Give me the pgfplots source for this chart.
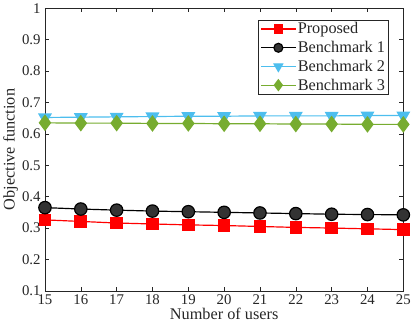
\documentclass[border=0pt]{standalone}
\usepackage{pgfplots}
\pgfplotsset{compat=1.18}
\usepackage{fontspec}
\setmainfont{Liberation Serif}
\definecolor{mblue}{rgb}{0.301,0.745,0.933}
\definecolor{mgreen}{rgb}{0.466,0.674,0.188}
\definecolor{axgray}{rgb}{0.15,0.15,0.15}
\begin{document}
\begin{tikzpicture}
\begin{axis}[
    scale only axis,
    width=362bp, height=285.6bp,
    xmin=15, xmax=25, ymin=0.1, ymax=1,
    xtick={15,...,25},
    ytick={0.1,0.2,...,1.0},
    yticklabels={0.1,0.2,0.3,0.4,0.5,0.6,0.7,0.8,0.9,1},
    tick align=inside,
    major tick length=4bp,
    axis line style={axgray, line width=0.5pt},
    tick style={axgray, line width=0.5pt},
    tick label style={font=\fontsize{15}{17}\selectfont, text=axgray},
    /pgf/number format/assume math mode=true,
    xlabel={Number of users},
    ylabel={Objective function},
    label style={font=\fontsize{16.5}{18}\selectfont, text=axgray},
    xlabel style={yshift=3bp},
    ylabel style={yshift=-3bp},
    yticklabel style={xshift=-1bp},
    legend style={at={(0.959,0.958)}, anchor=north east, draw=axgray,
        font=\fontsize{16.5}{18}\selectfont, text=axgray, inner sep=2pt,
        row sep=5pt, legend cell align=left,
        nodes={inner xsep=1.5pt, inner ysep=0.5pt}},
    legend image code/.code={
        \draw[mark repeat=2, mark phase=2, every mark/.append style={scale=0.72}]
            plot coordinates {(0bp,0bp) (17.5bp,0bp) (35bp,0bp)};},
]
\addplot[red, line width=1.2pt, mark=square*, mark size=5.8pt, mark options={fill=red}]
    coordinates {(15,0.326) (16,0.321) (17,0.316) (18,0.313) (19,0.310) (20,0.308) (21,0.305) (22,0.302) (23,0.300) (24,0.2975) (25,0.295)};
\addplot[black, line width=1.2pt, mark=*, mark size=6.3pt, mark options={fill=black!80}]
    coordinates {(15,0.365) (16,0.3605) (17,0.357) (18,0.354) (19,0.352) (20,0.350) (21,0.348) (22,0.346) (23,0.344) (24,0.343) (25,0.342)};
\addplot[mblue, line width=1.2pt, mark=triangle*, mark size=7pt, mark options={fill=mblue, rotate=180}]
    coordinates {(15,0.652) (16,0.653) (17,0.654) (18,0.655) (19,0.656) (20,0.656) (21,0.657) (22,0.657) (23,0.657) (24,0.658) (25,0.658)};
\addplot[mgreen, line width=1.2pt, mark=diamond*, mark size=7.5pt, mark options={fill=mgreen}]
    coordinates {(15,0.635) (16,0.634) (17,0.634) (18,0.633) (19,0.633) (20,0.632) (21,0.632) (22,0.631) (23,0.631) (24,0.630) (25,0.630)};
\legend{Proposed, Benchmark 1, Benchmark 2, Benchmark 3}
\end{axis}
\end{tikzpicture}
\end{document}
